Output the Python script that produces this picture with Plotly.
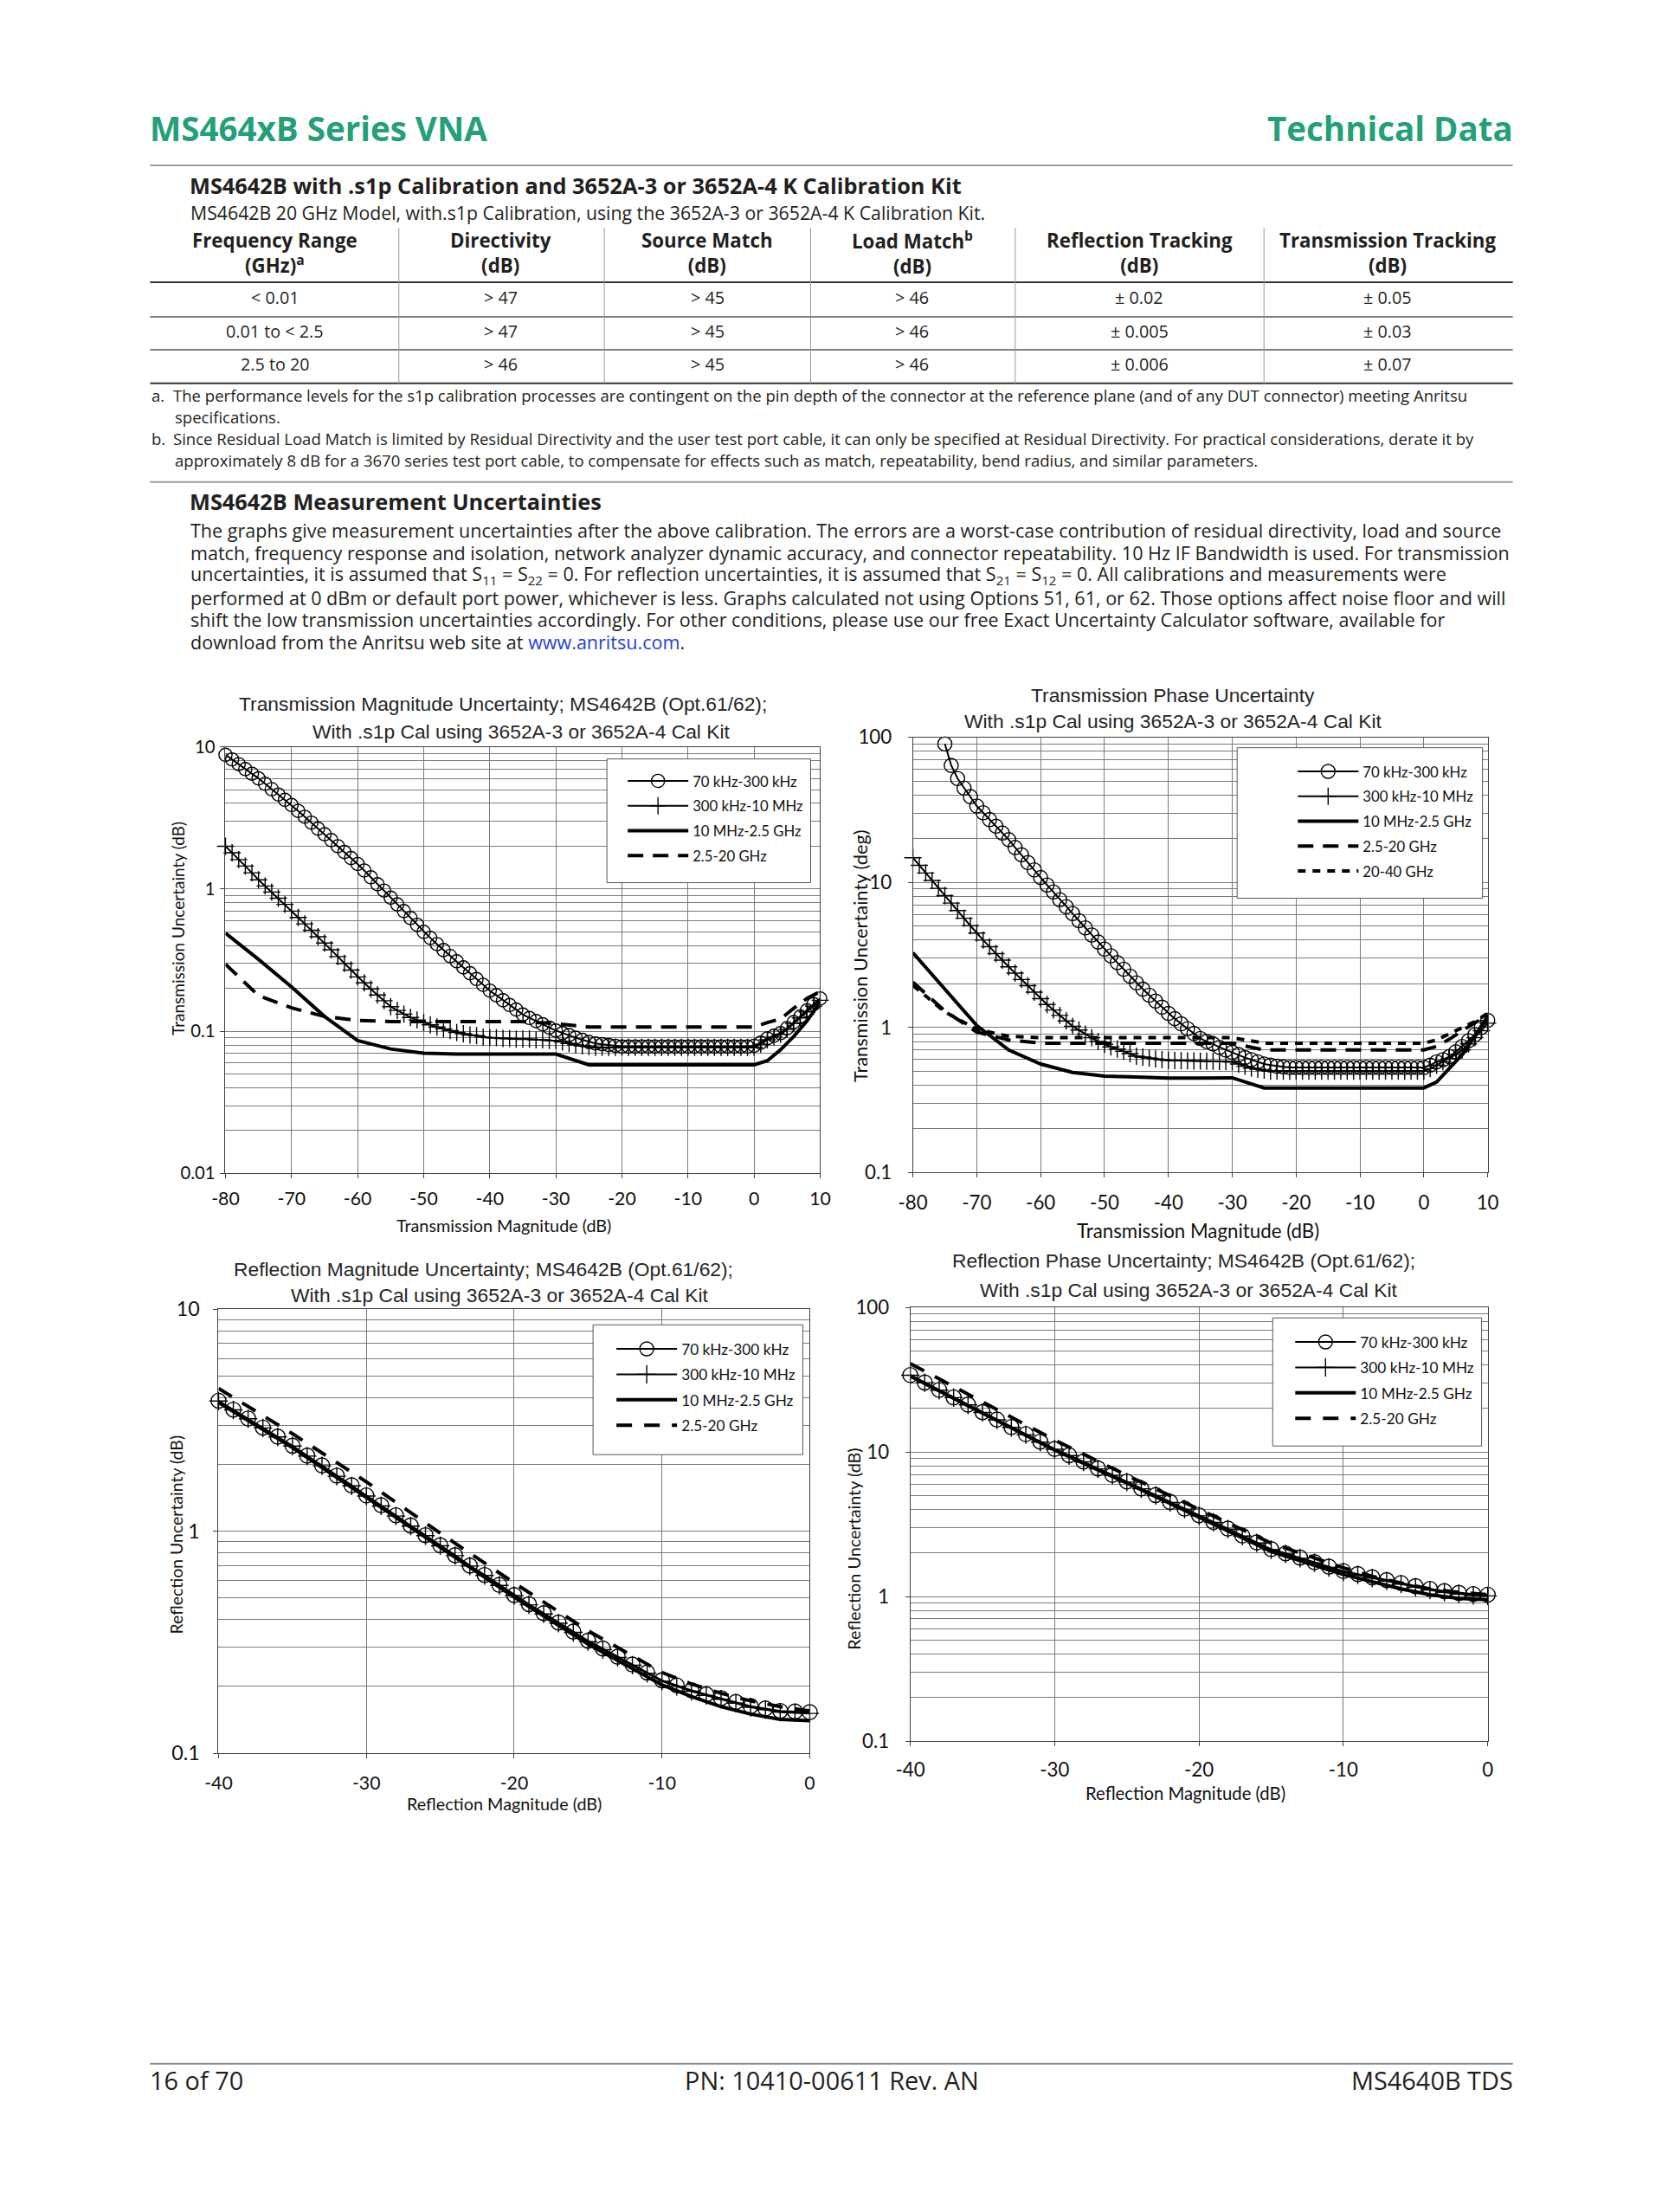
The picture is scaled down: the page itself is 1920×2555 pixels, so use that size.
import plotly.graph_objects as go

# Page geometry: figure sits inside the browser's default 8px body margin.
# The photographed page is mapped to the reference frame with a small
# uniform scale/offset, which is compensated here.
PAD = 8
W, H = 1920 - 2 * PAD, 2555 - 2 * PAD
SX, OX = 0.9828, 18.0
SY, OY = 0.9895, 15.0
FS = 2.0 / (SX + SY)
def X(px): return ((px - OX) / SX - PAD) / W
def Y(py): return 1 - ((py - OY) / SY - PAD) / H
def f(s): return round(s * FS, 2)

BODY = "Open Sans"
ARIAL = "Liberation Sans"
LATO = "Lato"
INK = "#231f20"
GREEN = "#23a077"
GRID = "#7a7a7a"

series_names = ["70 kHz-300 kHz", "300 kHz-10 MHz", "10 MHz-2.5 GHz", "2.5-20 GHz", "20-40 GHz"]

# ---------------- Chart 1: Transmission Magnitude Uncertainty ----------------
tm_x_fine = list(range(-80, 11))
tm_70k = [8.79, 8.15, 7.55, 6.98, 6.47, 6.00,
          5.50, 5.04, 4.62, 4.24, 3.90,
          3.54, 3.22, 2.93, 2.66, 2.43,
          2.21, 2.00, 1.82, 1.65, 1.50,
          1.35, 1.21, 1.08, 0.975, 0.87,
          0.78, 0.70, 0.625, 0.56, 0.50,
          0.453, 0.41, 0.372, 0.338, 0.31,
          0.281, 0.256, 0.233, 0.212, 0.193,
          0.179, 0.165, 0.153, 0.142, 0.131,
          0.124, 0.118, 0.112, 0.106, 0.101,
          0.097, 0.094, 0.090, 0.087, 0.084,
          0.082, 0.081, 0.080, 0.079, 0.078,
          0.078, 0.078, 0.078, 0.078, 0.078, 0.078, 0.078, 0.078, 0.078, 0.078,
          0.078, 0.078, 0.078, 0.078, 0.078, 0.078, 0.078, 0.078, 0.078,
          0.079, 0.083, 0.089, 0.093, 0.097, 0.105, 0.116, 0.127, 0.140, 0.155, 0.170]
tm_300k = [2.00, 1.80, 1.61, 1.45, 1.30, 1.16,
           1.05, 0.952, 0.862, 0.78, 0.70,
           0.631, 0.569, 0.513, 0.462, 0.417,
           0.374, 0.335, 0.300, 0.269, 0.241,
           0.219, 0.198, 0.180, 0.164, 0.149,
           0.140, 0.132, 0.125, 0.120, 0.115,
           0.111, 0.107, 0.104, 0.101, 0.098,
           0.096, 0.094, 0.093, 0.091, 0.090,
           0.090, 0.089, 0.089, 0.088, 0.088,
           0.088, 0.087, 0.087, 0.086, 0.086,
           0.084, 0.082, 0.080, 0.079, 0.078,
           0.077, 0.077, 0.077, 0.077, 0.077, 0.077, 0.077, 0.077, 0.077, 0.077, 0.077, 0.077,
           0.077, 0.077, 0.077, 0.077, 0.077, 0.077, 0.077, 0.077, 0.077, 0.077, 0.077, 0.077,
           0.077, 0.081, 0.087, 0.091, 0.095, 0.103, 0.113, 0.124, 0.137, 0.150, 0.165]
tm_x_coarse = [-80, -75, -70, -65, -60, -55, -50, -45, -40, -35, -30, -25, -20, -10, 0, 2, 4, 6, 8, 10]
tm_10M = [0.49, 0.32, 0.205, 0.127, 0.086, 0.075, 0.070, 0.069, 0.069, 0.069, 0.069,
          0.058, 0.058, 0.058, 0.058, 0.062, 0.074, 0.092, 0.118, 0.16]
tm_2g5 = [0.296, 0.178, 0.146, 0.127, 0.119, 0.117, 0.117, 0.117, 0.117, 0.117, 0.113,
          0.107, 0.107, 0.107, 0.107, 0.115, 0.122, 0.145, 0.17, 0.19]

# ---------------- Chart 2: Transmission Phase Uncertainty ----------------
tp_x_70k = list(range(-75, 11))
tp_70k = [90, 64, 52, 44.7, 39, 33.6,
          30.2, 27.1, 24.4, 21.9, 19.7,
          17.4, 15.5, 13.7, 12.2, 10.8,
          9.6, 8.6, 7.6, 6.8, 6.1,
          5.44, 4.86, 4.34, 3.88, 3.47,
          3.12, 2.80, 2.52, 2.26, 2.03,
          1.84, 1.67, 1.52, 1.38, 1.25,
          1.15, 1.06, 0.98, 0.91, 0.84,
          0.80, 0.77, 0.73, 0.70, 0.675,
          0.65, 0.62, 0.60, 0.58, 0.56,
          0.55, 0.54, 0.535, 0.53, 0.53,
          0.53, 0.53, 0.53, 0.53, 0.53, 0.53, 0.53, 0.53, 0.53, 0.53,
          0.53, 0.53, 0.53, 0.53, 0.53, 0.53, 0.53, 0.53, 0.53,
          0.53, 0.55, 0.58, 0.60, 0.63, 0.68, 0.74, 0.81, 0.89, 1.00, 1.12]
tp_x_fine = list(range(-80, 11))
tp_300k = [14.8, 13.1, 11.6, 10.3, 9.1, 8.1,
           7.2, 6.4, 5.66, 5.03, 4.47,
           4.0, 3.6, 3.23, 2.91, 2.62,
           2.37, 2.14, 1.94, 1.75, 1.58,
           1.44, 1.32, 1.21, 1.11, 1.02,
           0.96, 0.90, 0.85, 0.80, 0.766,
           0.735, 0.71, 0.685, 0.66, 0.634,
           0.625, 0.615, 0.607, 0.60, 0.594,
           0.592, 0.59, 0.589, 0.588, 0.587,
           0.586, 0.585, 0.583, 0.582, 0.58,
           0.56, 0.54, 0.525, 0.515, 0.508,
           0.50, 0.50, 0.50, 0.50, 0.50, 0.50, 0.50, 0.50, 0.50, 0.50, 0.50, 0.50,
           0.50, 0.50, 0.50, 0.50, 0.50, 0.50, 0.50, 0.50, 0.50, 0.50, 0.50, 0.50,
           0.50, 0.52, 0.55, 0.58, 0.61, 0.65, 0.70, 0.77, 0.85, 0.95, 1.07]
tp_x_coarse = [-80, -75, -70, -65, -60, -55, -50, -45, -40, -35, -30, -25, -20, -10, 0, 2, 4, 6, 8, 10]
tp_10M = [3.27, 1.85, 1.03, 0.70, 0.56, 0.49, 0.462, 0.455, 0.448, 0.448, 0.45,
          0.383, 0.383, 0.383, 0.383, 0.42, 0.525, 0.65, 0.87, 1.2]
tp_2g5 = [2.05, 1.30, 0.93, 0.82, 0.78, 0.78, 0.78, 0.78, 0.78, 0.78, 0.78,
          0.70, 0.70, 0.70, 0.70, 0.74, 0.83, 0.95, 1.08, 1.22]
tp_20g40 = [1.95, 1.28, 0.97, 0.87, 0.85, 0.85, 0.85, 0.85, 0.85, 0.85, 0.85,
            0.78, 0.78, 0.78, 0.78, 0.82, 0.90, 1.00, 1.10, 1.25]

# ---------------- Chart 3: Reflection Magnitude Uncertainty ----------------
rm_x = list(range(-40, 1))
rm_70k = [3.87, 3.53, 3.22, 2.93, 2.67, 2.43,
          2.19, 1.98, 1.78, 1.61, 1.45,
          1.31, 1.18, 1.06, 0.96, 0.865,
          0.78, 0.70, 0.635, 0.573, 0.516,
          0.469, 0.427, 0.388, 0.353, 0.321,
          0.296, 0.272, 0.251, 0.231, 0.213,
          0.202, 0.192, 0.184, 0.177, 0.170, 0.163, 0.159, 0.155, 0.154, 0.153]
rm_300k = [3.86, 3.52, 3.21, 2.92, 2.66, 2.42,
           2.18, 1.97, 1.77, 1.60, 1.44,
           1.30, 1.17, 1.055, 0.955, 0.86,
           0.776, 0.697, 0.632, 0.57, 0.513,
           0.466, 0.424, 0.385, 0.35, 0.318,
           0.293, 0.27, 0.249, 0.229, 0.211,
           0.2, 0.19, 0.182, 0.175, 0.168, 0.161, 0.157, 0.153, 0.152, 0.151]
rm_x_coarse = [-40, -35, -30, -25, -20, -15, -10, -8, -6, -4, -2, 0]
rm_10M = [3.80, 2.38, 1.42, 0.85, 0.505, 0.31, 0.203, 0.18, 0.162, 0.150, 0.142, 0.140]
rm_2g5 = [4.40, 2.75, 1.67, 0.98, 0.585, 0.356, 0.231, 0.205, 0.186, 0.172, 0.162, 0.155]

# ---------------- Chart 4: Reflection Phase Uncertainty ----------------
rp_x = list(range(-40, 1))
rp_70k = [34.1, 30.3, 26.9, 23.9, 21.3, 18.9,
          16.8, 14.9, 13.3, 11.8, 10.5,
          9.5, 8.6, 7.7, 6.95, 6.25,
          5.6, 5.04, 4.51, 4.06, 3.65,
          3.28, 2.95, 2.64, 2.37, 2.13,
          1.99, 1.86, 1.73, 1.61, 1.50,
          1.43, 1.36, 1.30, 1.24, 1.18, 1.13, 1.09, 1.06, 1.04, 1.03]
rp_300k = [34.0, 30.2, 26.8, 23.8, 21.2, 18.8,
           16.7, 14.8, 13.2, 11.7, 10.45,
           9.45, 8.55, 7.65, 6.9, 6.2,
           5.57, 5.0, 4.48, 4.03, 3.62,
           3.26, 2.93, 2.62, 2.35, 2.11,
           1.97, 1.84, 1.71, 1.59, 1.48,
           1.41, 1.34, 1.28, 1.22, 1.16, 1.11, 1.07, 1.04, 1.02, 1.01]
rp_x_coarse = [-40, -35, -30, -25, -20, -15, -10, -8, -6, -4, -2, 0]
rp_10M = [33.5, 18.5, 10.3, 6.1, 3.55, 2.05, 1.42, 1.27, 1.13, 1.03, 0.97, 0.95]
rp_2g5 = [40.9, 22.2, 12.1, 6.9, 4.0, 2.34, 1.58, 1.38, 1.24, 1.13, 1.07, 1.03]

# ---------------- Page text ----------------
table_head = ["Frequency Range<br>(GHz)<sup>a</sup>", "Directivity<br>(dB)", "Source Match<br>(dB)",
              "Load Match<sup>b</sup><br>(dB)", "Reflection Tracking<br>(dB)", "Transmission Tracking<br>(dB)"]
table_rows = [["&lt; 0.01", "&gt; 47", "&gt; 45", "&gt; 46", "± 0.02", "± 0.05"],
              ["0.01 to &lt; 2.5", "&gt; 47", "&gt; 45", "&gt; 46", "± 0.005", "± 0.03"],
              ["2.5 to 20", "&gt; 46", "&gt; 45", "&gt; 46", "± 0.006", "± 0.07"]]
note_a = ["The performance levels for the s1p calibration processes are contingent on the pin depth of the connector at the reference plane (and of any DUT connector) meeting Anritsu",
          "specifications."]
note_b = ["Since Residual Load Match is limited by Residual Directivity and the user test port cable, it can only be specified at Residual Directivity. For practical considerations, derate it by",
          "approximately 8 dB for a 3670 series test port cable, to compensate for effects such as match, repeatability, bend radius, and similar parameters."]
para_lines = [
    "The graphs give measurement uncertainties after the above calibration. The errors are a worst-case contribution of residual directivity, load and source",
    "match, frequency response and isolation, network analyzer dynamic accuracy, and connector repeatability. 10 Hz IF Bandwidth is used. For transmission",
    "uncertainties, it is assumed that S<sub>11</sub> = S<sub>22</sub> = 0. For reflection uncertainties, it is assumed that S<sub>21</sub> = S<sub>12</sub> = 0. All calibrations and measurements were",
    "performed at 0 dBm or default port power, whichever is less. Graphs calculated not using Options 51, 61, or 62. Those options affect noise floor and will",
    "shift the low transmission uncertainties accordingly. For other conditions, please use our free Exact Uncertainty Calculator software, available for",
    "download from the Anritsu web site at <span style='color:#1f3fd0'>www.anritsu.com</span>.",
]

fig = go.Figure()

def add_marker_series(xs, ys, name, ax, legend, symbol, msize, group):
    fig.add_trace(go.Scatter(
        x=xs, y=ys, name=name, mode="lines+markers", xaxis="x" + ax, yaxis="y" + ax,
        legend=legend, legendgroup=group, cliponaxis=False,
        line=dict(color="black", width=2),
        marker=dict(symbol=symbol, size=f(msize), color="black", line=dict(color="black", width=1.4))))

def add_line_series(xs, ys, name, ax, legend, dash, width, group):
    fig.add_trace(go.Scatter(
        x=xs, y=ys, name=name, mode="lines", xaxis="x" + ax, yaxis="y" + ax,
        legend=legend, legendgroup=group,
        line=dict(color="black", width=width, dash=dash)))

# chart 1
add_marker_series(tm_x_fine, tm_70k, series_names[0], "", "legend", "circle-open", 15, "a1")
add_marker_series(tm_x_fine, tm_300k, series_names[1], "", "legend", "cross-thin", 14, "a2")
add_line_series(tm_x_coarse, tm_10M, series_names[2], "", "legend", "solid", 4, "a3")
add_line_series(tm_x_coarse, tm_2g5, series_names[3], "", "legend", "18px,11px", 4, "a4")
# chart 2
add_marker_series(tp_x_70k, tp_70k, series_names[0], "2", "legend2", "circle-open", 16, "b1")
add_marker_series(tp_x_fine, tp_300k, series_names[1], "2", "legend2", "cross-thin", 14, "b2")
add_line_series(tp_x_coarse, tp_10M, series_names[2], "2", "legend2", "solid", 4, "b3")
add_line_series(tp_x_coarse, tp_2g5, series_names[3], "2", "legend2", "18px,11px", 4, "b4")
add_line_series(tp_x_coarse, tp_20g40, series_names[4], "2", "legend2", "9px,8px", 4, "b5")
# chart 3
add_marker_series(rm_x, rm_70k, series_names[0], "3", "legend3", "circle-open", 17, "c1")
add_marker_series(rm_x, rm_300k, series_names[1], "3", "legend3", "cross-thin", 15, "c2")
add_line_series(rm_x_coarse, rm_10M, series_names[2], "3", "legend3", "solid", 4, "c3")
add_line_series(rm_x_coarse, rm_2g5, series_names[3], "3", "legend3", "18px,14px", 4, "c4")
# chart 4
add_marker_series(rp_x, rp_70k, series_names[0], "4", "legend4", "circle-open", 17, "d1")
add_marker_series(rp_x, rp_300k, series_names[1], "4", "legend4", "cross-thin", 15, "d2")
add_line_series(rp_x_coarse, rp_10M, series_names[2], "4", "legend4", "solid", 4, "d3")
add_line_series(rp_x_coarse, rp_2g5, series_names[3], "4", "legend4", "18px,14px", 4, "d4")

def log_minor(lo, hi):
    return [m * 10 ** e for e in range(lo, hi) for m in range(2, 10)]

def xax(domain, rng, vals, size, standoff, anchor):
    return dict(domain=domain, range=rng, tickmode="array", tickvals=vals,
                ticktext=[str(v) for v in vals], showgrid=True, gridcolor=GRID, gridwidth=1,
                showline=True, linecolor="#404040", linewidth=1, mirror=True, zeroline=False,
                ticks="outside", ticklen=5, tickcolor="#404040", ticklabelstandoff=standoff,
                tickfont=dict(family=LATO, size=f(size), color="#111"), anchor=anchor, fixedrange=True)

def yax(domain, lo, hi, labels, size, standoff, anchor):
    vals = [10 ** e for e in range(lo, hi + 1)]
    return dict(domain=domain, type="log", range=[lo, hi], tickmode="array", tickvals=vals,
                ticktext=labels, showgrid=True, gridcolor=GRID, gridwidth=1,
                minor=dict(tickmode="array", tickvals=log_minor(lo, hi), showgrid=True,
                           gridcolor=GRID, gridwidth=1, ticks=""),
                showline=True, linecolor="#404040", linewidth=1, mirror=True, zeroline=False,
                ticks="outside", ticklen=5, tickcolor="#404040", ticklabelstandoff=standoff,
                tickfont=dict(family=LATO, size=f(size), color="#111"), anchor=anchor, fixedrange=True)

def leg(text_x, first_y, size):
    # legend entries placed so their text/symbols line up with the boxed key
    return dict(x=X(text_x - 80), y=Y(first_y - 16), xanchor="left", yanchor="top",
                bgcolor="rgba(0,0,0,0)", borderwidth=0,
                font=dict(family=LATO, size=f(size), color="#111"),
                traceorder="grouped", tracegroupgap=4, itemwidth=70, itemclick=False)

tx = [-80, -70, -60, -50, -40, -30, -20, -10, 0, 10]
rx = [-40, -30, -20, -10, 0]

fig.update_layout(
    width=W, height=H, margin=dict(l=0, r=0, t=0, b=0),
    paper_bgcolor="white", plot_bgcolor="white", showlegend=True,
    xaxis=xax([X(261), X(947)], [-80, 10], tx, 21, 5, "y"),
    yaxis=yax([Y(1356), Y(863)], -2, 1, ["0.01", "0.1", "1", "10"], 20, 2, "x"),
    xaxis2=xax([X(1054), X(1717)], [-80, 10], tx, 22, 10, "y2"),
    yaxis2=yax([Y(1355), Y(852)], -1, 2, ["0.1", "1", "10", "100"], 22, 14, "x2"),
    xaxis3=xax([X(253), X(935)], [-40, 0], rx, 21, 10, "y3"),
    yaxis3=yax([Y(2026), Y(1513)], -1, 1, ["0.1", "1", "10"], 23, 11, "x3"),
    xaxis4=xax([X(1051), X(1717)], [-40, 0], rx, 22, 8, "y4"),
    yaxis4=yax([Y(2012), Y(1511)], -1, 2, ["0.1", "1", "10", "100"], 22, 14, "x4"),
    legend=leg(800, 901, 16.5),
    legend2=leg(1573, 890, 16.5),
    legend3=leg(787, 1557, 17),
    legend4=leg(1570, 1549, 17),
)

ann = []
def T(text, x, y, size, family=BODY, color=INK, xa="left", ya="middle", angle=0, align="left"):
    ann.append(dict(text=text, x=X(x), y=Y(y), xref="paper", yref="paper", xanchor=xa, yanchor=ya,
                    showarrow=False, textangle=angle, align=align,
                    font=dict(family=family, size=f(size), color=color)))

# header / footer
T("<b>MS464xB Series VNA</b>", 172, 148, 38, color=GREEN)
T("<b>Technical Data</b>", 1748, 148, 38, color=GREEN, xa="right")
T("16 of 70", 172, 2404, 28.5)
T("PN: 10410-00611 Rev. AN", 960, 2404, 28.5, xa="center")
T("MS4640B TDS", 1748, 2404, 28.5, xa="right")

# spec table section
T("<b>MS4642B with .s1p Calibration and 3652A-3 or 3652A-4 K Calibration Kit</b>", 218, 214, 25)
T("MS4642B 20 GHz Model, with.s1p Calibration, using the 3652A-3 or 3652A-4 K Calibration Kit.", 219, 246, 21)
col_x = [318, 579, 817, 1053, 1315, 1602]
for cx, head in zip(col_x, table_head):
    T("<b>" + head + "</b>", cx, 292, 22, xa="center", align="center")
for ry, row in zip([344, 383, 421], table_rows):
    for cx, cell in zip(col_x, row):
        T(cell, cx, ry, 19.5, xa="center")

# footnotes (lines kept just far enough apart not to collide)
T("a.", 174, 456.5, 18.3)
T(note_a[0], 199, 456.5, 18.3)
T(note_a[1], 201, 481.5, 18.3)
T("b.", 174, 506.5, 18.3)
T(note_b[0], 199, 506.5, 18.3)
T(note_b[1], 201, 531.5, 18.3)

T("<b>MS4642B Measurement Uncertainties</b>", 218, 579, 25)
for i, line in enumerate(para_lines):
    T(line, 219, 613 + i * 25.8, 21.25)

# chart titles / axis titles
CT = "#262626"
sub = "With .s1p Cal using 3652A-3 or 3652A-4 Cal Kit"
T("Transmission Magnitude Uncertainty; MS4642B (Opt.61/62);", 581, 813, 22.5, ARIAL, CT, "center")
T(sub, 603, 845, 22.5, ARIAL, CT, "center")
T("Transmission Magnitude (dB)", 582, 1416, 19.5, LATO, "#111", "center")
T("Transmission Uncertainty (dB)", 206, 1073, 18.8, LATO, "#111", "center", angle=-90)

T("Transmission Phase Uncertainty", 1354, 803, 22.5, ARIAL, CT, "center")
T(sub, 1354, 833, 22.5, ARIAL, CT, "center")
T("Transmission Magnitude (dB)", 1383, 1422, 22, LATO, "#111", "center")
T("Transmission Uncertainty (deg)", 993, 1105, 21.5, LATO, "#111", "center", angle=-90)

T("Reflection Magnitude Uncertainty; MS4642B (Opt.61/62);", 559, 1467, 22.5, ARIAL, CT, "center")
T(sub, 578, 1497, 22.5, ARIAL, CT, "center")
T("Reflection Magnitude (dB)", 583, 2084, 19.5, LATO, "#111", "center")
T("Reflection Uncertainty (dB)", 204, 1773, 19.2, LATO, "#111", "center", angle=-90)

T("Reflection Phase Uncertainty; MS4642B (Opt.61/62);", 1366, 1457, 22.5, ARIAL, CT, "center")
T(sub, 1372, 1491, 22.5, ARIAL, CT, "center")
T("Reflection Magnitude (dB)", 1368, 2072, 20, LATO, "#111", "center")
T("Reflection Uncertainty (dB)", 986, 1790, 19.5, LATO, "#111", "center", angle=-90)

shp = []
def HL(y, x0, x1, color, w):
    shp.append(dict(type="line", xref="paper", yref="paper", x0=X(x0), x1=X(x1), y0=Y(y), y1=Y(y),
                    line=dict(color=color, width=w)))
def VL(x, y0, y1, color, w):
    shp.append(dict(type="line", xref="paper", yref="paper", x0=X(x), x1=X(x), y0=Y(y0), y1=Y(y1),
                    line=dict(color=color, width=w)))
def BOX(x0, y0, x1, y1):
    shp.append(dict(type="rect", xref="paper", yref="paper", x0=X(x0), x1=X(x1), y0=Y(y1), y1=Y(y0),
                    fillcolor="white", line=dict(color="#555555", width=1), layer="above"))

HL(191, 174, 1746, "#9c9c9c", 2)
HL(326, 174, 1746, "#333333", 2)
HL(366, 174, 1746, "#555555", 1.5)
HL(404, 174, 1746, "#555555", 1.5)
HL(443, 174, 1746, "#333333", 2)
for dx in [461, 698, 936, 1172, 1459]:
    VL(dx, 263, 443, "#9a9a9a", 1)
HL(557, 174, 1746, "#9c9c9c", 2)
HL(2385, 174, 1746, "#7f9196", 2)

# legend key frames
BOX(701, 877, 936, 1020)
BOX(1428, 864, 1711, 1038)
BOX(685, 1531, 927, 1681)
BOX(1469, 1523, 1710, 1671)

fig.update_layout(annotations=ann, shapes=shp)

fig.write_html("out.html", config={"displayModeBar": False, "staticPlot": True})
